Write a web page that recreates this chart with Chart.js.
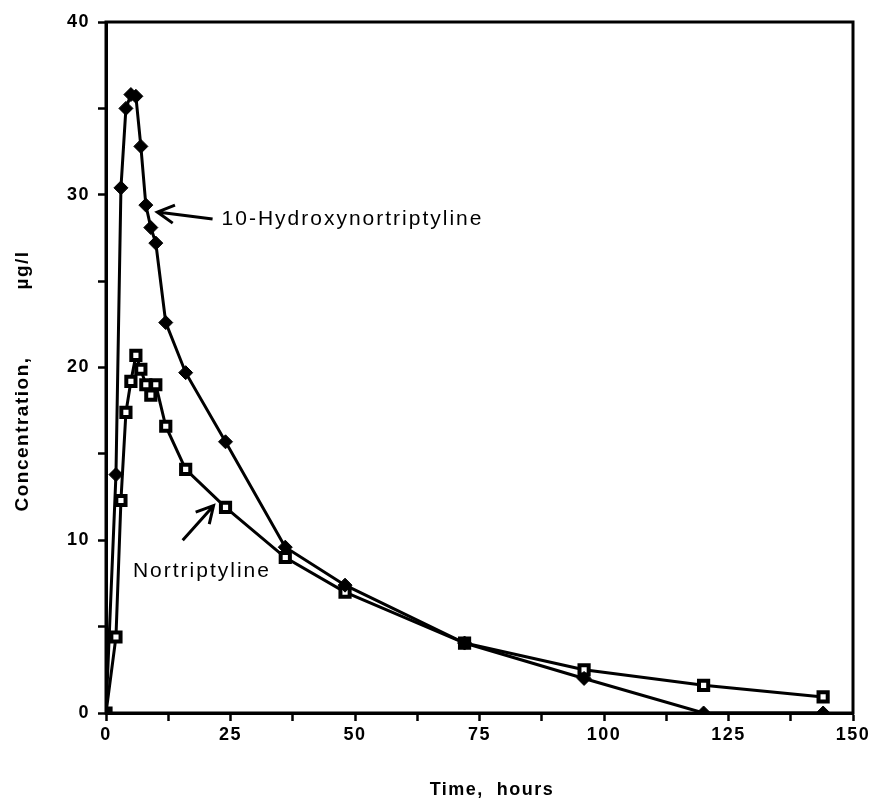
<!DOCTYPE html>
<html>
<head>
<meta charset="utf-8">
<script src="https://cdn.jsdelivr.net/npm/chart.js@4.4.1/dist/chart.umd.min.js"></script>
<style>
  html, body { margin: 0; padding: 0; background: #fff; }
  #wrap { width: 876px; height: 798px; }
</style>
</head>
<body>
<div id="wrap"><canvas id="myChart" width="876" height="798"></canvas></div>
<script>
// sampling times (hours)
const hours = [0, 2, 3, 4, 5, 6, 7, 8, 9, 10, 12, 16, 24, 36, 48, 72, 96, 120, 144];
// concentrations, ug/l
const hydroxy = [0, 13.8, 30.4, 35.0, 35.8, 35.7, 32.8, 29.4, 28.1, 27.2, 22.6, 19.7, 15.7, 9.6, 7.4, 4.05, 2.0, 0, 0];
const nortrip = [0, 4.4, 12.3, 17.4, 19.2, 20.7, 19.9, 19.0, 18.4, 19.0, 16.6, 14.1, 11.9, 9.0, 7.0, 4.05, 2.5, 1.6, 0.93];

const xTicks = [0, 25, 50, 75, 100, 125, 150];
const yTicks = [0, 10, 20, 30, 40];

// callout labels, in data units: text start, arrow tail, arrow tip
const calloutText = ['10-Hydroxynortriptyline', 'Nortriptyline'];
const calloutPos = [[23.2, 28.6], [5.4, 8.2]];
const arrowTail = [[21.4, 28.6], [15.4, 10.0]];
const arrowTip = [[10.3, 29.0], [21.6, 12.0]];

const toPoints = (ys) => hours.map((h, i) => ({ x: h, y: ys[i] }));

const FONT = '"Liberation Sans", Arial, Helvetica, sans-serif';

const extras = {
    id: 'extras',
    beforeDraw(chart) {
        chart.ctx.letterSpacing = '1.5px';
    },
    afterDraw(chart) {
        const { ctx, chartArea: a, scales: { x, y } } = chart;
        ctx.save();
        ctx.strokeStyle = '#000';
        ctx.lineWidth = 3;
        ctx.strokeRect(a.left, a.top, a.right - a.left, a.bottom - a.top);

        // callouts
        ctx.fillStyle = '#000';
        ctx.font = '21px ' + FONT;
        ctx.letterSpacing = '2px';
        ctx.textBaseline = 'middle';
        ctx.textAlign = 'left';
        for (let i = 0; i < calloutText.length; i++) {
            ctx.fillText(calloutText[i], x.getPixelForValue(calloutPos[i][0]), y.getPixelForValue(calloutPos[i][1]));
            const x1 = x.getPixelForValue(arrowTail[i][0]), y1 = y.getPixelForValue(arrowTail[i][1]);
            const x2 = x.getPixelForValue(arrowTip[i][0]), y2 = y.getPixelForValue(arrowTip[i][1]);
            const ang = Math.atan2(y2 - y1, x2 - x1);
            ctx.lineWidth = 3;
            ctx.beginPath();
            ctx.moveTo(x1, y1);
            ctx.lineTo(x2, y2);
            ctx.moveTo(x2 - 19 * Math.cos(ang - 0.5), y2 - 19 * Math.sin(ang - 0.5));
            ctx.lineTo(x2, y2);
            ctx.lineTo(x2 - 19 * Math.cos(ang + 0.5), y2 - 19 * Math.sin(ang + 0.5));
            ctx.stroke();
        }

        // axis titles
        ctx.font = 'bold 18px ' + FONT;
        ctx.letterSpacing = '1.5px';
        ctx.textAlign = 'center';
        ctx.fillText('Time,  hours', 492, 790);
        ctx.translate(23, 0);
        ctx.rotate(-Math.PI / 2);
        ctx.font = 'bold 19px ' + FONT;
        ctx.fillText('Concentration,', -434, 0);
        ctx.fillText('\u00b5g/l', -270, 0);
        ctx.restore();
    }
};

new Chart(document.getElementById('myChart'), {
    type: 'scatter',
    data: {
        datasets: [{
            label: '10-Hydroxynortriptyline',
            data: toPoints(hydroxy),
            showLine: true,
            borderColor: '#000',
            borderWidth: 3,
            pointStyle: 'rectRot',
            pointRadius: 7,
            pointBackgroundColor: '#000',
            pointBorderColor: '#000',
            pointBorderWidth: 1
        }, {
            label: 'Nortriptyline',
            data: toPoints(nortrip),
            showLine: true,
            borderColor: '#000',
            borderWidth: 3,
            pointStyle: 'rect',
            pointRadius: 6.5,
            pointBackgroundColor: '#fff',
            pointBorderColor: '#000',
            pointBorderWidth: 4
        }]
    },
    options: {
        responsive: false,
        animation: false,
        layout: { padding: { left: 0, top: 22, right: 23, bottom: 0 } },
        plugins: { legend: { display: false }, tooltip: { enabled: false } },
        scales: {
            x: {
                type: 'linear',
                min: 0, max: 150,
                afterFit: (s) => { s.height = 85; },
                afterBuildTicks: (s) => { s.ticks = [0, 12.5, 25, 37.5, 50, 62.5, 75, 87.5, 100, 112.5, 125, 137.5, 150].map(v => ({ value: v })); },
                ticks: {
                    color: '#000',
                    font: { family: FONT, size: 18, weight: 'bold' },
                    padding: 3,
                    maxRotation: 0,
                    autoSkip: false,
                    callback: (v) => xTicks.includes(v) ? String(v) : ''
                },
                grid: { drawOnChartArea: false, color: '#000', tickLength: 8, tickWidth: 2.5 },
                border: { color: '#000', width: 3 }
            },
            y: {
                type: 'linear',
                min: 0, max: 40,
                afterFit: (s) => { s.width = 106; },
                afterBuildTicks: (s) => { s.ticks = [0, 5, 10, 15, 20, 25, 30, 35, 40].map(v => ({ value: v })); },
                ticks: {
                    color: '#000',
                    font: { family: FONT, size: 18, weight: 'bold' },
                    padding: 8,
                    autoSkip: false,
                    callback: (v) => yTicks.includes(v) ? String(v) : ''
                },
                grid: { drawOnChartArea: false, color: '#000', tickLength: 8, tickWidth: 2.5 },
                border: { color: '#000', width: 3 }
            }
        }
    },
    plugins: [extras]
});
</script>
</body>
</html>
